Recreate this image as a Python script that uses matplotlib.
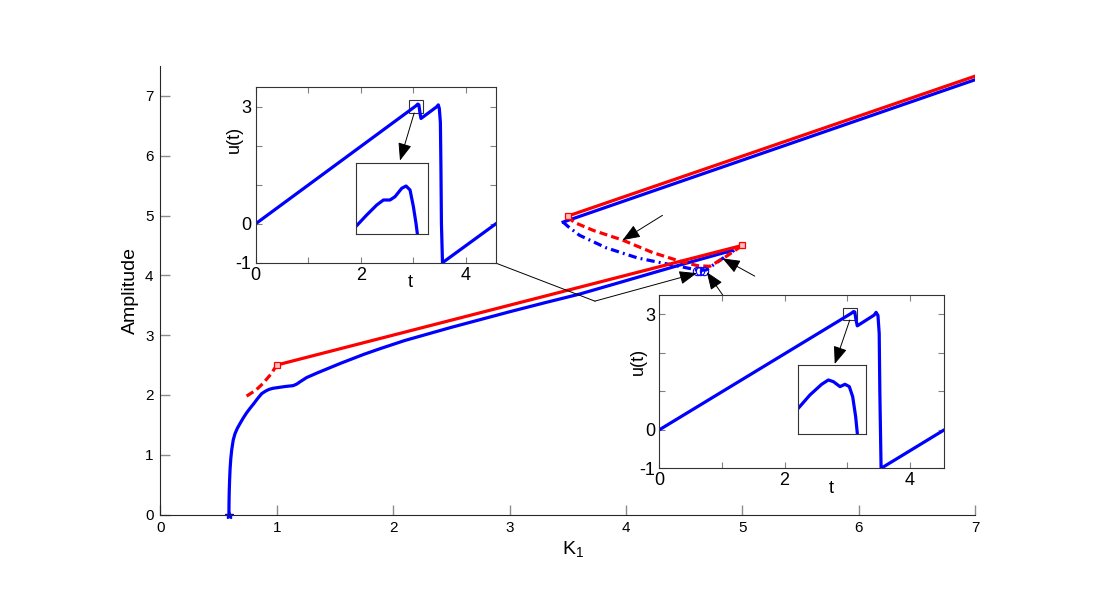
import matplotlib
matplotlib.use("Agg")
import matplotlib.pyplot as plt
from matplotlib.patches import Rectangle

plt.rcParams['font.family'] = ['Liberation Sans', 'DejaVu Sans']
plt.rcParams['mathtext.default'] = 'regular'

# ---------------- data ----------------
blue_lower_K = [0.588, 0.589, 0.591, 0.594, 0.598, 0.604, 0.612, 0.625, 0.64, 0.66, 0.683, 0.71,
                0.74, 0.769, 0.80, 0.835, 0.869, 0.90, 0.93, 0.965, 1.0, 1.07, 1.14, 1.17, 1.2,
                1.256, 1.35, 1.45, 1.55, 1.63, 1.75, 1.89, 2.1, 2.3, 2.5, 2.75, 3.0, 3.3, 3.6,
                4.0, 4.46, 4.92]
blue_lower_A = [0.0, 0.2, 0.4, 0.58, 0.76, 0.93, 1.08, 1.245, 1.35, 1.44, 1.52, 1.61,
                1.70, 1.775, 1.85, 1.94, 2.02, 2.06, 2.09, 2.11, 2.12, 2.14, 2.155, 2.18, 2.22,
                2.29, 2.37, 2.45, 2.53, 2.59, 2.68, 2.775, 2.91, 3.02, 3.13, 3.26, 3.39, 3.54, 3.685,
                3.91, 4.17, 4.42]
blue_upper_K = [3.46, 7.0]
blue_upper_A = [4.89, 7.27]
blue_unstable_K = [3.46, 3.5, 3.6, 3.83, 4.1, 4.3, 4.46, 4.63, 4.69, 4.8, 4.93]
blue_unstable_A = [4.89, 4.82, 4.67, 4.46, 4.29, 4.21, 4.15, 4.08, 4.09, 4.24, 4.42]

red_lower_K = [1.0, 5.0]
red_lower_A = [2.5, 4.5]
red_upper_K = [3.5, 7.0]
red_upper_A = [4.99, 7.33]
red_dash1_K = [0.74, 0.82, 0.88, 0.95, 1.0]
red_dash1_A = [1.98, 2.08, 2.19, 2.35, 2.5]
red_dash2_K = [3.5, 3.55, 3.72, 3.97, 4.23, 4.49, 4.62, 4.72, 4.85, 5.0]
red_dash2_A = [4.99, 4.89, 4.75, 4.59, 4.38, 4.22, 4.16, 4.15, 4.30, 4.5]

square_K = [1.0, 3.5, 5.0]
square_A = [2.5, 4.99, 4.5]
circle_K = [4.61, 4.64, 4.67]
circle_A = [4.07, 4.08, 4.08]
hopf_K = [0.588]
hopf_A = [0.0]

x_ticks = [0, 1, 2, 3, 4, 5, 6, 7]
y_ticks = [0, 1, 2, 3, 4, 5, 6, 7]

# inset time series
t1 = [0, 3.05, 3.09, 3.11, 3.13, 3.15, 3.45, 3.48, 3.50, 3.52, 3.53, 3.54, 3.56, 4.58]
u1 = [0, 3.02, 3.07, 3.05, 2.85, 2.70, 3.0, 3.05, 2.95, 2.6, 1.5, 0.0, -1.0, 0.0]
t2 = [0, 3.06, 3.10, 3.12, 3.14, 3.16, 3.43, 3.46, 3.49, 3.51, 3.52, 3.53, 3.54, 4.55]
u2 = [0, 3.02, 3.07, 3.06, 2.85, 2.70, 2.98, 3.05, 2.97, 2.5, 1.0, 0.0, -1.0, 0.0]
inset_xticks = [0, 1, 2, 3, 4]
inset_xlabels = ['0', '', '2', '', '4']
inset_yticks = [-1, 0, 1, 2, 3]
inset_ylabels = ['-1', '0', '', '', '3']

# zoomed details (normalised)
z1_x = [0, 0.151, 0.289, 0.381, 0.472, 0.541, 0.633, 0.693, 0.748, 0.794, 0.83, 0.849]
z1_y = [0.104, 0.269, 0.41, 0.481, 0.481, 0.528, 0.646, 0.679, 0.623, 0.387, 0.151, 0.0]
z2_x = [0, 0.173, 0.347, 0.446, 0.520, 0.619, 0.693, 0.757, 0.807, 0.851, 0.876]
z2_y = [0.371, 0.566, 0.722, 0.785, 0.761, 0.688, 0.722, 0.688, 0.541, 0.249, 0.0]

BLUE = (0, 0, 1)
RED = (1, 0, 0)

fig = plt.figure(figsize=(11, 6), dpi=100)
ax = fig.add_axes([0.1459, 0.1425, 0.7405, 0.7475])

lw = 2.3
ax.plot(blue_lower_K, blue_lower_A, color=BLUE, lw=lw, solid_capstyle='butt', solid_joinstyle='round')
ax.plot(blue_upper_K, blue_upper_A, color=BLUE, lw=lw)
ax.plot(blue_unstable_K, blue_unstable_A, color=BLUE, lw=lw, ls=(0, (2.6, 1.3, 0.6, 1.3)))
ax.plot(red_lower_K, red_lower_A, color=RED, lw=lw)
ax.plot(red_upper_K, red_upper_A, color=RED, lw=lw)
ax.plot(red_dash1_K, red_dash1_A, color=RED, lw=lw, ls=(0, (2.5, 1.3)))
ax.plot(red_dash2_K, red_dash2_A, color=RED, lw=lw, ls=(0, (2.5, 1.3)))
ax.plot(square_K, square_A, 's', ms=5, mfc=(1, 0.75, 0.75), mec=RED, mew=0.9, ls='none')
ax.plot(circle_K, circle_A, 'o', ms=6, mfc='none', mec=BLUE, mew=0.8, ls='none')
ax.plot(hopf_K, hopf_A, '*', ms=6, color=BLUE, ls='none', clip_on=False)

ax.set_xlim(0, 7)
ax.set_ylim(0, 7.5)
ax.set_xticks(x_ticks)
ax.set_yticks(y_ticks)
for s in ['top', 'right']:
    ax.spines[s].set_visible(False)
for s in ['left', 'bottom']:
    ax.spines[s].set_color('0.15')
    ax.spines[s].set_linewidth(0.8)
ax.tick_params(direction='in', length=7, color='0.55', width=1, labelsize=11, pad=5)
ax.set_xlabel('$K_1$', fontsize=14)
ax.set_ylabel('Amplitude', fontsize=14)
ax.xaxis.set_label_coords(0.506, -0.055)
ax.yaxis.set_label_coords(-0.026, 0.5)

arrow_kw = dict(arrowstyle='-|>,head_length=0.9,head_width=0.35', color='k', lw=0.7,
                shrinkA=0, shrinkB=0, mutation_scale=12)
# connector from inset 1 to the circles
ax.plot([2.882, 3.733], [4.204, 3.568], color='k', lw=0.7, clip_on=False)
ax.annotate('', xy=(4.609, 4.036), xytext=(3.733, 3.568), arrowprops=arrow_kw)
ax.annotate('', xy=(4.695, 4.053), xytext=(4.835, 3.66), arrowprops=arrow_kw)
ax.annotate('', xy=(4.83, 4.282), xytext=(5.107, 3.986), arrowprops=arrow_kw)
ax.annotate('', xy=(3.971, 4.588), xytext=(4.314, 5.003), arrowprops=arrow_kw)


def make_inset(rect, t, u, xmax, box, arrow, tpos, ylab_pos, zrect, zx, zy):
    ia = fig.add_axes(rect)
    ia.plot(t, u, color=BLUE, lw=2.3)
    ia.set_xlim(0, xmax)
    ia.set_ylim(-1, 3.5)
    ia.set_xticks(inset_xticks)
    ia.set_xticklabels(inset_xlabels)
    ia.set_yticks(inset_yticks)
    ia.set_yticklabels(inset_ylabels)
    ia.tick_params(direction='in', length=4, color='0.5', labelsize=13, top=True, right=True, pad=3)
    for s in ia.spines.values():
        s.set_color('0.2')
        s.set_linewidth(0.8)
    ia.text(tpos, -0.115, 't', transform=ia.get_xaxis_transform(), ha='center', va='center', fontsize=13)
    ia.set_ylabel('u(t)', fontsize=13)
    ia.yaxis.set_label_coords(*ylab_pos)
    ia.add_patch(Rectangle((box[0], box[1]), box[2] - box[0], box[3] - box[1],
                           fill=False, ec='0.2', lw=0.8))
    za = fig.add_axes(zrect)
    za.plot(zx, zy, color=BLUE, lw=2.3)
    za.set_xlim(0, 1)
    za.set_ylim(0, 1)
    za.set_xticks([])
    za.set_yticks([])
    for s in za.spines.values():
        s.set_color('0.2')
        s.set_linewidth(0.8)
    ia.annotate('', xy=arrow[1], xytext=arrow[0], arrowprops=arrow_kw)
    return ia


make_inset([0.2325, 0.5622, 0.2184, 0.2923], t1, u1, 4.58,
           (2.92, 2.84, 3.19, 3.18), ((3.02, 2.84), (2.75, 1.62)), 2.94, (-0.055, 0.70),
           [0.3234, 0.61, 0.066, 0.1178], z1_x, z1_y)
make_inset([0.5994, 0.2195, 0.2591, 0.2888], t2, u2, 4.55,
           (2.93, 2.85, 3.16, 3.16), ((3.04, 2.85), (2.80, 1.71)), 2.75, (-0.044, 0.615),
           [0.7257, 0.2772, 0.0613, 0.114], z2_x, z2_y)

fig.savefig('out.png', dpi=100)
